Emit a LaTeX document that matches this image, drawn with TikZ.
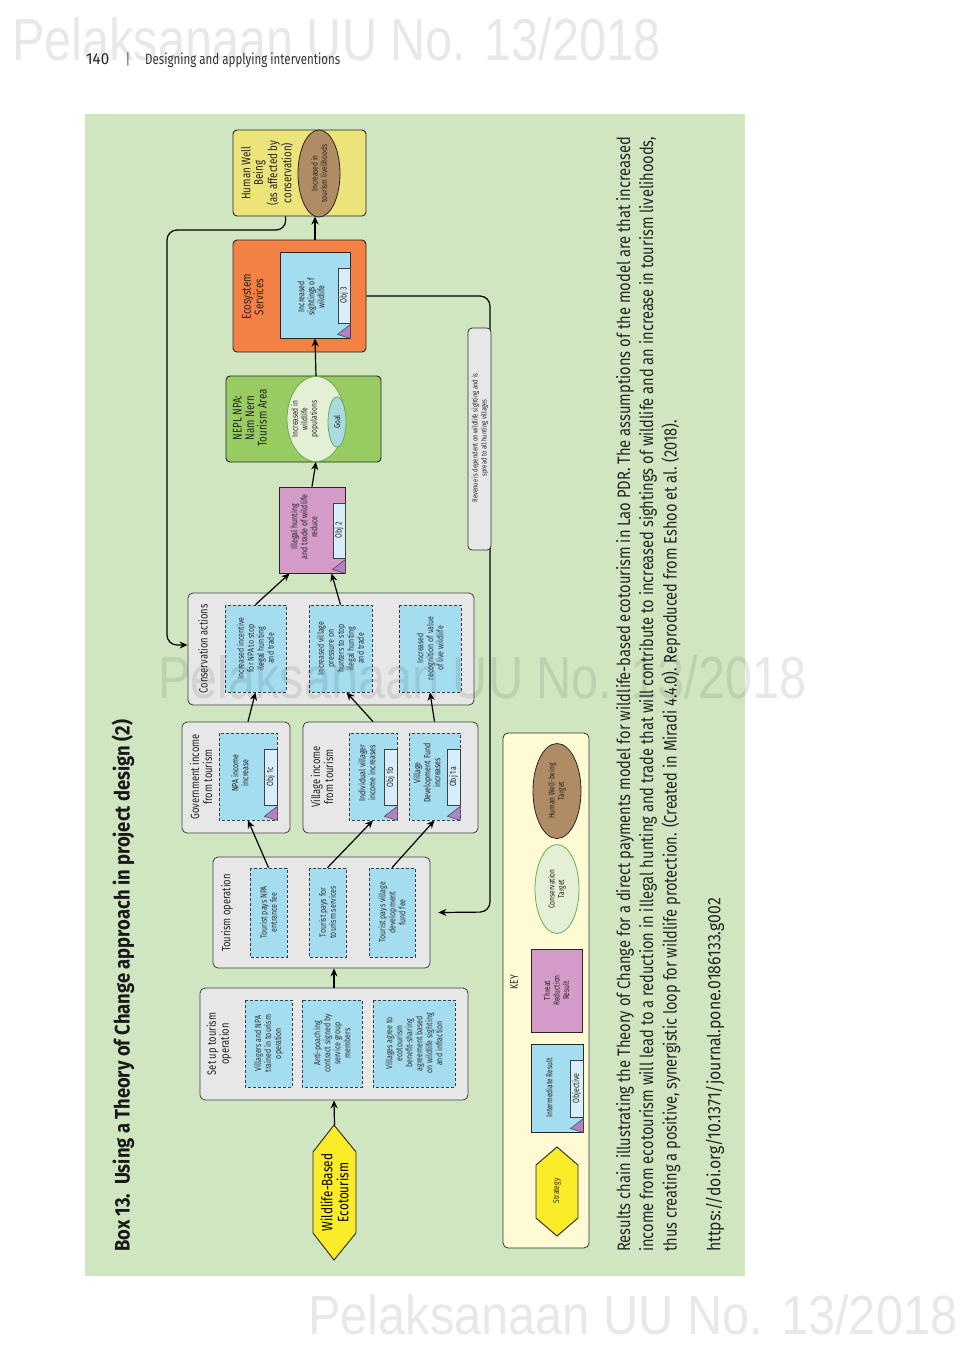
\documentclass[tikz,border=0pt]{standalone}
\usepackage{fontspec}
\usepackage{graphicx}
\setmainfont{Fira Sans}
\newfontfamily\cf{Fira Sans}[FakeStretch=0.78]
\newfontfamily\wmf{Liberation Sans}
\usetikzlibrary{arrows.meta,calc,shapes.geometric}
\definecolor{bggreen}{RGB}{207,230,193}
\definecolor{grpgray}{RGB}{231,231,231}
\definecolor{ibblue}{RGB}{164,221,239}
\definecolor{tabblue}{RGB}{215,238,250}
\definecolor{tripurple}{RGB}{178,130,196}
\definecolor{thrpink}{RGB}{212,154,200}
\definecolor{orng}{RGB}{243,128,68}
\definecolor{neplg}{RGB}{152,204,98}
\definecolor{hwbyel}{RGB}{236,228,122}
\definecolor{brownc}{RGB}{176,140,100}
\definecolor{ctlight}{RGB}{228,240,214}
\definecolor{ctborder}{RGB}{100,175,80}
\definecolor{goalblue}{RGB}{168,218,224}
\definecolor{hexyel}{RGB}{250,236,40}
\definecolor{keycream}{RGB}{254,250,212}
\newcommand\ttlf{\cf\fontsize{12.5}{12.5}\selectfont}
\newcommand\grf{\cf\fontsize{12}{13}\selectfont}
\newcommand\bxf{\cf\fontsize{9}{10}\selectfont}
\newcommand\smf{\cf\fontsize{8.5}{9.5}\selectfont}
\newcommand\capf{\cf\fontsize{18}{18}\selectfont}
\newcommand\mkbox[7]{\node[#1,rotate=90,minimum width={(#6)-(#4)},minimum height={(#5)-(#3)}] (#2) at ({((#3)+(#5))/2},{((#4)+(#6))/2}) {#7};}
\newcommand\mktri[1]{\draw[tri] ($(#1.south west)+(0,-14)$) -- ($(#1.south west)+(-13,-4)$) -- (#1.south west) -- cycle;}
\begin{document}
\begin{tikzpicture}[x=1pt,y=-1pt,
  grp/.style={draw=black!75,fill=grpgray,rounded corners=5pt,line width=0.8pt},
  dbox/.style={draw=black!75,dash pattern=on 3pt off 2pt,fill=ibblue,line width=0.7pt,align=center,font=\bxf,text=black!80,inner sep=1pt},
  sbox/.style={draw=black!85,fill=#1,line width=0.9pt},
  tabbox/.style={draw=black!75,fill=tabblue,line width=0.6pt,font=\bxf,inner sep=0pt,text=black!85},
  tri/.style={draw=black!75,fill=tripurple,line width=0.5pt},
  lbl/.style={rotate=90,align=center,inner sep=0pt,text=black!85},
  ell/.style={ellipse,rotate=90,draw=black!85,line width=0.8pt,inner sep=0pt,align=center,font=\smf,text=black!85},
  hexs/.style={draw=black!85,fill=hexyel,line width=0.9pt},
  note/.style={draw=black!80,fill=grpgray,rounded corners=4pt,line width=0.8pt},
  keyst/.style={draw=black!80,fill=keycream,rounded corners=5pt,line width=0.8pt},
  arr/.style={-{Stealth[length=8pt,width=7pt]},line width=1.2pt,draw=black},
  wm/.style={font=\wmf,text=black,text opacity=0.09,inner sep=0pt}]
\useasboundingbox (0,0) rectangle (964,1361);
\fill[white] (0,0) rectangle (964,1361);
% top watermark and header
\node[wm,anchor=base west] (wmtop) at (12,60) {\resizebox{648pt}{43pt}{Pelaksanaan UU No. 13/2018}};
\node[anchor=base west,inner sep=0pt,text=black!85] (pg) at (86,64) {\resizebox{23pt}{\height}{\cf\fontsize{16}{16}\selectfont 140}};
\node[anchor=base,inner sep=0pt,font=\cf\fontsize{15}{15}\selectfont,text=black!70] (bar) at (128,64) {|};
\node[anchor=base west,inner sep=0pt,text=black!80] (hd) at (145,64) {\resizebox{195pt}{\height}{\cf\fontsize{15}{15}\selectfont Designing and applying interventions}};
% green panel
\mkbox{fill=bggreen,inner sep=0pt}{panel}{85}{114}{745}{1276}{}
% title
\node[lbl,anchor=west,text=black!90] (title) at (123,1252) {\resizebox{532pt}{\height}{\cf\bfseries\fontsize{21}{21}\selectfont Box 13.\ \ Using a Theory of Change approach in project design (2)}};
% ---------- diagram ----------
% Human well being
\mkbox{sbox=hwbyel,rounded corners=4pt}{hwb}{233}{130}{366}{216}{}
\node[lbl,font=\ttlf] (hwbt) at (267,173) {Human Well\\Being\\(as affected by\\conservation)};
\node[ell,fill=brownc,minimum width=87,minimum height=42] (hwbE) at (319,173.5) {Increased in\\tourism livelihoods};
% Ecosystem services
\mkbox{sbox=orng,rounded corners=4pt}{eco}{233}{240}{366}{352}{}
\node[lbl,font=\ttlf] (ecot) at (253,297) {Ecosystem\\Services};
\mkbox{sbox=ibblue}{ecoIn}{280}{252}{350}{338}{}
\node[lbl,font=\bxf] (ecoInt) at (311,297) {Increased\\sightings of\\wildlife};
\mkbox{tabbox}{tab3}{338}{268}{350}{323}{Obj 3}
\mktri{ecoIn}
% NEPL
\mkbox{sbox=neplg,rounded corners=4pt}{nepl}{226}{376}{381}{462}{}
\node[lbl,font=\ttlf] (neplt) at (250,418) {NEPL NPA:\\Nam Nern\\Tourism Area};
\node[ell,fill=ctlight,draw=ctborder,minimum width=85,minimum height=58] (neplE) at (316,419) {};
\node[lbl,font=\smf] (neplEt) at (305,419) {Increased in\\wildlife\\populations};
\node[ell,fill=goalblue,draw=ctborder,minimum width=50,minimum height=18] (goal) at (337,422) {Goal};
% Illegal hunting
\mkbox{sbox=thrpink}{ill}{279}{487}{345}{573}{}
\node[lbl,font=\bxf] (illt) at (304,527) {Illegal hunting\\and trade of wildlife\\reduce};
\mkbox{tabbox}{tab2}{333}{503}{345}{558}{Obj 2}
\mktri{ill}
% Conservation actions
\mkbox{grp}{cons}{188}{593}{474}{705}{}
\node[lbl,font=\grf] (const) at (203,649) {Conservation actions};
\mkbox{dbox}{a1}{225}{605}{286}{692}{Increased incentive\\for NPA to stop\\ilegal hunting\\and trade}
\mkbox{dbox}{a2}{309}{605}{372}{692}{Increased village\\pressure on\\hunters to stop\\ilegal hunting\\and trade}
\mkbox{dbox}{a3}{399}{605}{461}{692}{Increased\\recognition of value\\of live wildlife}
% Government income
\mkbox{grp}{gov}{182}{722}{290}{833}{}
\node[lbl,font=\grf] (govt) at (201,777) {Government income\\from tourism};
\mkbox{dbox}{g1}{219}{733}{277}{820}{}
\node[lbl,font=\bxf] (g1t) at (240,773) {NPA income\\increase};
\mkbox{tabbox}{tab1c}{264}{749}{277}{805}{Obj 1c}
\mktri{g1}
% Village income
\mkbox{grp}{vil}{303}{722}{478}{833}{}
\node[lbl,font=\grf] (vilt) at (322,777) {Village income\\from tourism};
\mkbox{dbox}{b1}{349}{733}{397}{820}{}
\node[lbl,font=\bxf] (b1t) at (367,773) {Individual villager\\income increases};
\mkbox{tabbox}{tab1b}{384}{749}{397}{805}{Obj 1b}
\mktri{b1}
\mkbox{dbox}{b2}{409}{733}{460}{820}{}
\node[lbl,font=\bxf] (b2t) at (427,773) {Village\\Development Fund\\increases};
\mkbox{tabbox}{tab1a}{447}{749}{460}{805}{Obj 1a}
\mktri{b2}
% Tourism operation
\mkbox{grp}{tour}{213}{857}{430}{968}{}
\node[lbl,font=\grf] (tourt) at (227,913) {Tourism operation};
\mkbox{dbox}{t1}{250}{868}{287}{957}{Tourist pays NPA\\entrance fee}
\mkbox{dbox}{t2}{309}{868}{346}{957}{Tourist pays for\\tourism services}
\mkbox{dbox}{t3}{369}{868}{415}{957}{Tourist pays village\\development\\fund fee}
% Set up tourism operation
\mkbox{grp}{setup}{200}{988}{468}{1100}{}
\node[lbl,font=\grf] (setupt) at (219,1044) {Set up tourism\\operation};
\mkbox{dbox}{s1}{245}{1000}{292}{1087}{Villagers and NPA\\trained in tourism\\operation}
\mkbox{dbox}{s2}{302}{1000}{362}{1087}{Anti-poaching\\contract signed by\\service group\\members}
\mkbox{dbox}{s3}{373}{1000}{455}{1087}{Villages agree to\\ecotourism\\benefit-sharing\\agreement based\\on wildlife sighting\\and infraction}
% Wildlife-based ecotourism
\draw[hexs] (334,1125) -- (356,1152) -- (356,1233) -- (334,1260) -- (313,1233) -- (313,1152) -- cycle;
\node[lbl,font=\cf\fontsize{15}{16}\selectfont,text=black,minimum width=135,minimum height=43] (wbe) at (334.5,1192.5) {Wildlife-Based\\Ecotourism};
% feedback loops
\draw[arr,rounded corners=10pt] (eco.south) -- (490,296) -- (490,912) -- ($(tour.south)+(8,0)$);
\mkbox{note}{rev}{468}{328}{491}{550}{}
\node[lbl,font=\cf\fontsize{7.5}{9}\selectfont] (revt) at (480,438) {Revenue is dependent on wildlife sighting and is\\spread to all hunting villages};
\draw[arr,rounded corners=10pt] ($(hwb.north west)+(53,0)$) -- (286,230) -- (167,230) -- (167,645) -- ($(cons.north)+(0,-4)$);
% arrows
\draw[arr] (wbe.east) -- (setup.west);
\draw[arr] (setup.east) -- (setup.east |- tour.west);
\draw[arr] (t1.east) -- (g1.west);
\draw[arr] (t2.east) -- (b1.west);
\draw[arr] (t3.east) -- (b2.west);
\draw[arr] (g1.center |- gov.east) -- (a1.west);
\draw[arr] (b1.center |- vil.east) -- ($(a2.west)+(6,0)$);
\draw[arr] (b2.center |- vil.east) -- (a3.west);
\draw[arr] (a1.east) -- ($(ill.north west)+(11,0)$);
\draw[arr] (a2.east) -- ($(ill.north west)+(53,0)$);
\draw[arr] (ill.east) -- (neplE.west);
\draw[arr] (neplE.east) -- (ecoIn.west);
\draw[arr] (ecoIn.center |- eco.east) -- (ecoIn.center |- hwb.west);
% KEY
\mkbox{keyst}{key}{503}{733}{589}{1248}{}
\node[lbl,font=\cf\fontsize{11}{11}\selectfont] (keyt) at (514,982) {KEY};
\draw[hexs] (557,1147) -- (578,1165) -- (578,1218) -- (557,1236) -- (536,1218) -- (536,1165) -- cycle;
\node[lbl,font=\smf] (kst) at (557,1191) {Strategy};
\mkbox{sbox=ibblue}{kir}{531}{1044}{583}{1132}{}
\node[lbl,font=\smf] (kirt) at (549,1088) {Intermediate Result};
\mkbox{tabbox}{ktab}{570}{1060}{583}{1117}{Objective}
\mktri{kir}
\mkbox{sbox=thrpink,align=center,font=\smf,text=black!85}{ktr}{531}{949}{582}{1032}{Threat\\Reduction\\Result}
\node[ell,fill=ctlight,draw=ctborder,minimum width=89,minimum height=44] (kct) at (557,889) {Conservation\\Target};
\node[ell,fill=brownc,minimum width=95,minimum height=48] (khw) at (557,791) {Human Well-being\\Target};
% caption
\node[lbl,anchor=west] (cap1) at (625,1252) {\resizebox{1115pt}{\height}{\capf Results chain illustrating the Theory of Change for a direct payments model for wildlife-based ecotourism in Lao PDR. The assumptions of the model are that increased}};
\node[lbl,anchor=west] (cap2) at (648,1252) {\resizebox{1115pt}{\height}{\capf income from ecotourism will lead to a reduction in illegal hunting and trade that will contribute to increased sightings of wildlife and an increase in tourism livelihoods,}};
\node[lbl,anchor=west] (cap3) at (671,1252) {\resizebox{832pt}{\height}{\capf thus creating a positive, synergistic loop for wildlife protection. (Created in Miradi 4.4.0). Reproduced from Eshoo et al. (2018).}};
\node[lbl,anchor=west] (doi) at (715,1252) {\resizebox{354pt}{\height}{\capf https://doi.org/10.1371/journal.pone.0186133.g002}};
% watermarks
\node[wm,anchor=base west] (wmmid) at (158,698) {\resizebox{648pt}{43pt}{Pelaksanaan UU No. 13/2018}};
\node[wm,anchor=base west] (wmbot) at (308,1334) {\resizebox{649pt}{40pt}{Pelaksanaan UU No. 13/2018}};
\end{tikzpicture}
\end{document}
